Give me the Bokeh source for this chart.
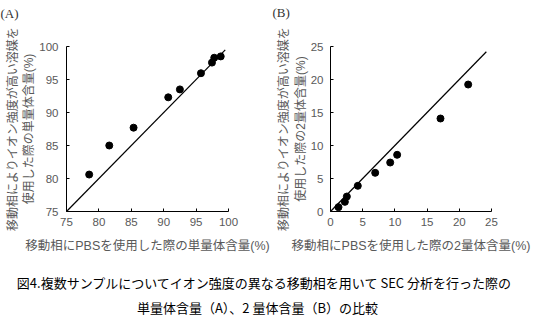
from bokeh.plotting import figure
from bokeh.layouts import column, row
from bokeh.models import FixedTicker, Range1d, LinearAxis
from bokeh.core.properties import value
from bokeh.embed import file_html
from bokeh.resources import INLINE

# Panel A: monomer content (%)
a_x = [78.5, 81.6, 85.35, 90.7, 92.5, 95.75, 97.45, 97.8, 98.8]
a_y = [80.6, 85.0, 87.7, 92.3, 93.5, 95.95, 97.56, 98.3, 98.5]
a_line = [75, 99.5]
# Panel B: dimer content (%)
b_x = [1.24, 2.23, 2.54, 4.24, 6.94, 9.27, 10.35, 17.08, 21.38]
b_y = [0.66, 1.46, 2.27, 3.89, 5.86, 7.42, 8.59, 14.09, 19.24]
b_line = [0, 24.2]

a_ticks = [75, 80, 85, 90, 95, 100]
b_ticks = [0, 5, 10, 15, 20, 25]

a_title = "(A)"
b_title = "(B)"
a_xlabel = "移動相にPBSを使用した際の単量体含量(%)"
a_ylabel = ["移動相によりイオン強度が高い溶媒を", "使用した際の単量体含量(%)"]
b_xlabel = "移動相にPBSを使用した際の2量体含量(%)"
b_ylabel = ["移動相によりイオン強度が高い溶媒を", "使用した際の2量体含量(%)"]
caption = ["図4.複数サンプルについてイオン強度の異なる移動相を用いて SEC 分析を行った際の",
           "単量体含量（A）、2 量体含量（B）の比較"]

FONT = "Liberation Sans, Noto Sans CJK JP"
CAPFONT = "Noto Sans CJK JP"
GRAY = "#595959"


def blank_axis(label, size, standoff):
    return LinearAxis(axis_label=label, axis_line_color=None,
                      major_tick_line_color=None, minor_tick_line_color=None,
                      major_label_text_font_size="0px", major_label_standoff=0,
                      major_tick_in=0, major_tick_out=0,
                      axis_label_text_font=FONT, axis_label_text_font_size=size,
                      axis_label_text_font_style="normal", axis_label_text_color=GRAY,
                      axis_label_standoff=standoff, ticker=FixedTicker(ticks=[]))


def panel(xs, ys, line, ticks, rng, title, xlabel, ylabel, w, h, left, top, right,
          bottom, ylab_standoff, spacer):
    p = figure(width=w, height=h, output_backend="svg", toolbar_location=None,
               x_range=Range1d(*rng), y_range=Range1d(*rng),
               min_border_left=left, min_border_top=top, min_border_right=right,
               min_border_bottom=bottom)
    p.title.text = title
    p.title.text_font = "Liberation Serif"
    p.title.text_font_size = "13px"
    p.title.text_font_style = "normal"
    p.title.text_color = "#333333"
    p.title.offset = -left
    p.title.standoff = 0
    p.outline_line_color = None
    p.xgrid.visible = False
    p.ygrid.visible = False
    for ax in (p.xaxis[0], p.yaxis[0]):
        ax.ticker = FixedTicker(ticks=ticks)
        ax.minor_tick_line_color = None
        ax.major_tick_in = 3
        ax.major_tick_out = 0
        ax.axis_line_color = "black"
        ax.major_tick_line_color = "black"
        ax.major_label_text_font = "Liberation Sans"
        ax.major_label_text_font_size = "11.5px"
        ax.major_label_text_color = GRAY
        ax.axis_label_text_font = FONT
        ax.axis_label_text_font_style = "normal"
        ax.axis_label_text_color = GRAY
    p.xaxis[0].axis_label = xlabel
    p.xaxis[0].axis_label_text_font_size = "12.5px"
    p.yaxis[0].axis_label = ylabel[1]
    p.yaxis[0].axis_label_text_font_size = "12px"
    p.xaxis[0].major_label_standoff = 6
    p.yaxis[0].major_label_standoff = ylab_standoff
    p.xaxis[0].axis_label_standoff = 10
    p.yaxis[0].axis_label_standoff = 0
    p.add_layout(blank_axis(ylabel[0], "12px", 0), "left")
    p.add_layout(blank_axis(" ", "2px", spacer), "above")
    p.line(line, line, line_color="black", line_width=1.2)
    p.scatter(xs, ys, size=7, color="black")
    return p


pa = panel(a_x, a_y, a_line, a_ticks, (75, 100), a_title, a_xlabel, a_ylabel,
           272, 262, 66, 44, 44, 47, 8, 21)
pb = panel(b_x, b_y, b_line, b_ticks, (0, 25), b_title, b_xlabel, b_ylabel,
           277, 262, 58, 46, 58, 51, 7, 22)

cap = figure(width=549, height=67, output_backend="svg", toolbar_location=None,
             x_range=Range1d(0, 549), y_range=Range1d(67, 0),
             min_border=0)
cap.axis.visible = False
cap.grid.visible = False
cap.outline_line_color = None
cap.text(x=[264, 257], y=[20, 45], text=caption, text_font=value(CAPFONT),
         text_font_size="13px", text_align="center", text_baseline="middle",
         text_color="black")

layout = column(row(pa, pb, spacing=0), cap, spacing=0)
open("out.html", "w").write(file_html(layout, INLINE))
